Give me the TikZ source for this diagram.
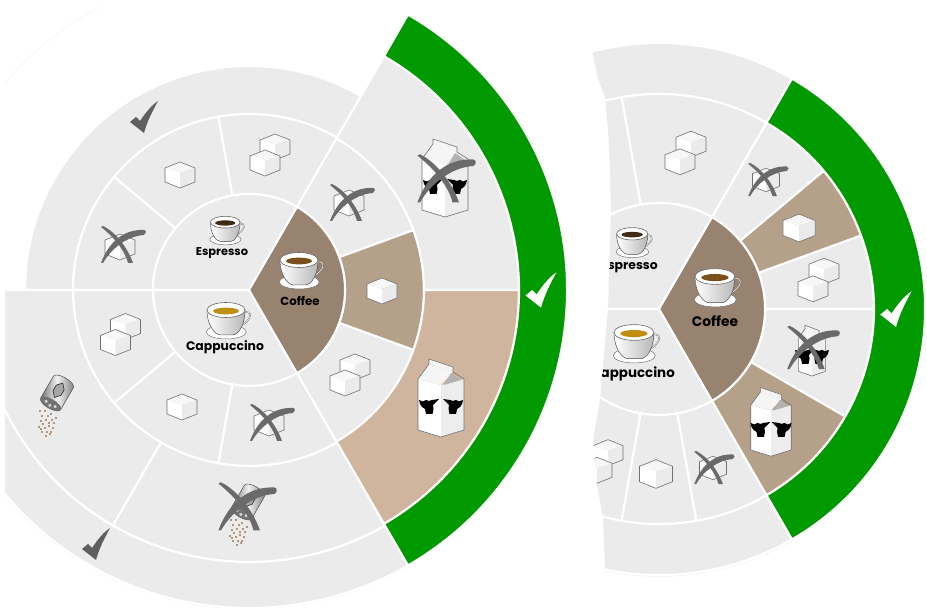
\documentclass[tikz,border=0pt]{standalone}
\usepackage{fontspec}
\usetikzlibrary{calc}
\newfontfamily\labfont{Poppins}
\definecolor{segray}{HTML}{EBEBEB}
\definecolor{slicebrown}{HTML}{97836F}
\definecolor{midtan}{HTML}{B5A08A}
\definecolor{lighttan}{HTML}{CFB59E}
\definecolor{okgreen}{HTML}{009900}
\definecolor{tickgray}{HTML}{5F5F5F}
\definecolor{crossgray}{HTML}{6A6A6A}
\definecolor{cubeline}{HTML}{707070}
\definecolor{powder}{HTML}{7A3E0C}
\definecolor{espressocol}{HTML}{3F2A14}
\definecolor{coffeecol}{HTML}{7A4F1C}
\definecolor{cappucol}{HTML}{C08E12}
\newcommand{\ringseg}[6]{\filldraw[seg,fill=#6] ($(#1)+(#4:#3)$) arc[start angle=#4,end angle=#5,radius=#3] -- ($(#1)+(#5:#2)$) arc[start angle=#5,end angle=#4,radius=#2] -- cycle;}
\tikzset{
  seg/.style={draw=white,line width=2.1pt,line join=miter},
  lab/.style={font=\labfont\bfseries\fontsize{#1}{14}\selectfont,text=black,inner sep=0pt},
  faint/.style={draw=black!6,line width=.5pt},
  pics/cube/.style={code={
    \fill[white!97!black] (0,2)--(-15,7)--(0,13)--(15,7)--cycle;
    \fill[white] (-15,7)--(0,2)--(0,-13)--(-15,-7)--cycle;
    \fill[black!8] (15,7)--(0,2)--(0,-13)--(15,-7)--cycle;
    \draw[cubeline,line width=.6pt,line join=round] (0,13)--(15,7)--(15,-7)--(0,-13)--(-15,-7)--(-15,7)--cycle;
  }},
  pics/cubes/.style={code={
    \pic at (5,8) {cube};
    \pic at (-5,-8) {cube};
  }},
  pics/cupicon/.style={code={
    \filldraw[draw=black!55,fill=white,line width=.5pt] (-.7,-12) ellipse[x radius=20,y radius=7];
    \draw[black!55,line width=1.4pt] (16,8) .. controls (26,10) and (26,0) .. (12,-7);
    \draw[white,line width=.5pt] (16,8) .. controls (26,10) and (26,0) .. (12,-7);
    \filldraw[draw=black!60,line width=.5pt,left color=white,right color=black!28] (-20,10) .. controls (-20,-4) and (-13,-15) .. (-6,-15) -- (5,-15) .. controls (12,-15) and (18,-4) .. (18,10) -- cycle;
    \filldraw[draw=black!60,fill=white,line width=.6pt] (-1,10) ellipse[x radius=19,y radius=7.5];
    \fill[#1] (-1,9) ellipse[x radius=13,y radius=3.4];
  }},
  pics/cowhead/.style={code={
    \fill[black] (-10,6)--(-6,4.5)--(-3,6)--(0,5)--(3,6)--(10,7)--(6,3)--(4,1)--(4.5,-3)--(3.5,-8)--(-3,-8)--(-4,-3)--(-7,-1)--(-9,2)--cycle;
  }},
  pics/milkbox/.style={code={
    \fill[white] (-23,18)--(0,12)--(0,-40)--(-23,-33)--cycle;
    \fill[black!7] (23,18)--(0,12)--(0,-40)--(23,-33)--cycle;
    \fill[black!4] (-23,18)--(-12,33)--(12,25)--(0,12)--cycle;
    \fill[black!4] (-12,33)--(-12,38)--(12,30)--(12,25)--cycle;
    \fill[black!30] (3,12)--(20,17)--(10,24)--cycle;
    \draw[cubeline,line width=.6pt,line join=round] (-12,38)--(12,30)--(12,25)--(23,18)--(23,-33)--(0,-40)--(-23,-33)--(-23,18)--(-12,33)--cycle;
    \pic at (-12,-9) {cowhead};
    \pic[xscale=-1] at (12,-9) {cowhead};
  }},
  pics/powderdots/.style={code={
    \foreach \dx/\dy in {-8/12,-3/12,3/9,-6/7,0/7,-7/2,-2/3,4/3,8/5,-5/-1,1/0,6/0,-9/-4,-3/-5,1/-3,5/-5,-6/-9,-1/-9,3/-9,-2/-13,-7/-6,2/-11}
      \fill[powder] (\dx,\dy) circle[radius=.9];
  }},
  pics/shaker/.style={code={
    \begin{scope}[rotate=-30,scale=1.15]
      \fill[left color=black!60,right color=black!50,middle color=black!5] (-10,-11) -- (-10,11) arc[start angle=180,end angle=0,radius=10,y radius=4] -- (10,-11) arc[start angle=0,end angle=-180,radius=10,y radius=4] -- cycle;
      \draw[black!65,line width=.5pt] (-10,-11) -- (-10,11) arc[start angle=180,end angle=0,radius=10,y radius=4] -- (10,-11);
      \filldraw[draw=black!60,fill=black!55,line width=.4pt] (0,-11) ellipse[x radius=10,y radius=4];
      \fill[black!15] (-4.5,-11) circle[radius=1.5] (0,-12.5) circle[radius=1.5] (4.5,-11) circle[radius=1.5];
      \filldraw[draw=black!80,fill=black!35,line width=.7pt] (0,10)--(4,5.5)--(4,0)--(0,-4.5)--(-4,0)--(-4,5.5)--cycle;
    \end{scope}
    \pic at (-9,-30) {powderdots};
  }},
  pics/tick/.style={code={
    \fill[#1] (-14,-5) -- (-8,0) -- (-4,-4) .. controls (2,5) and (8,12) .. (14,16) .. controls (8,5) and (3,-5) .. (0,-16) -- cycle;
  }},
  pics/crossout/.style={code={
    \fill[crossgray] (-22,18) -- (-20,19) .. controls (-6,12) and (5,-4) .. (10,-18) -- (5,-18) .. controls (2,-6) and (-8,7) .. (-22,18) -- cycle;
    \fill[crossgray] (-22,-18) -- (-20,-18) .. controls (-12,-4) and (4,9) .. (21,10) .. controls (23.5,11) and (23.5,15) .. (21,15) .. controls (2,16) and (-14,4) .. (-22,-18) -- cycle;
  }}
}
\begin{document}
\begin{tikzpicture}[x=1pt,y=1pt]
\useasboundingbox (0,0) rectangle (927,608);
\coordinate (lc) at (249,318);
\coordinate (rc) at (659,299);
% left chart
\begin{scope}
\clip (5,0) rectangle (585,608);
\draw[faint] ($(lc)+(118:320)$) arc[start angle=118,end angle=140,radius=320];
\draw[faint] ($(lc)+(-60:319)$) arc[start angle=-60,end angle=-180,radius=319];
\ringseg{lc}{176}{224}{60}{180}{segray}
\ringseg{lc}{96}{176}{100}{140}{segray}
\ringseg{lc}{96}{176}{60}{100}{segray}
\ringseg{lc}{96}{176}{140}{180}{segray}
\ringseg{lc}{0.01}{96}{60}{180}{segray}
\ringseg{lc}{0.01}{96}{180}{300}{segray}
\ringseg{lc}{96}{176}{180}{220}{segray}
\ringseg{lc}{96}{176}{220}{260}{segray}
\ringseg{lc}{96}{176}{260}{300}{segray}
\ringseg{lc}{176}{272}{180}{240}{segray}
\ringseg{lc}{176}{272}{240}{300}{segray}
\ringseg{lc}{272}{318}{180}{300}{segray}
\ringseg{lc}{96}{175}{20}{60}{segray}
\ringseg{lc}{96}{175}{-60}{-20}{segray}
\ringseg{lc}{96}{175}{-20}{20}{midtan}
\ringseg{lc}{175}{270}{0}{60}{segray}
\ringseg{lc}{175}{270}{-60}{0}{lighttan}
\ringseg{lc}{0.01}{96}{-60}{60}{slicebrown}
\ringseg{lc}{270}{318}{-60}{60}{okgreen}
\end{scope}
\pic at (120,361) {cube};
\pic at (123,363) {crossout};
\pic at (180,433) {cube};
\pic at (270,453) {cubes};
\pic at (349,405) {cube};
\pic at (352,405) {crossout};
\pic at (445,431) {milkbox};
\pic[scale=1.3] at (446,429) {crossout};
\pic at (300,338) {cupicon=coffeecol};
\node[lab=11.7] (lcoffee) at (300,307) {Coffee};
\pic at (382,317) {cube};
\pic at (350,233) {cubes};
\pic at (441,211) {milkbox};
\pic[scale=1.1] at (541,318) {tick=white};
\pic at (227,288) {cupicon=cappucol};
\node[lab=12.4] (lcappu) at (225,260.5) {Cappuccino};
\pic[scale=.78] at (226,378) {cupicon=espressocol};
\node[lab=11.4] (lespresso) at (222,355) {Espresso};
\pic at (120.5,273.5) {cubes};
\pic at (182,201) {cube};
\pic at (269,185) {cube};
\pic at (272,185) {crossout};
\pic at (57,215) {shaker};
\pic at (248,106) {shaker};
\pic[scale=1.3] at (247,101) {crossout};
\pic at (144,491) {tick=tickgray};
\pic at (96,64) {tick=tickgray};
% right chart
\begin{scope}
\clip (592,578) -- (592,558) -- (597,533) -- (605,510) -- (608,478) -- (610,438) -- (611,398) -- (608,300) -- (600,208) -- (593,168) -- (596,128) -- (603,91) -- (605,38) -- (592,34) -- (592,20) -- (927,20) -- (927,578) -- cycle;
\draw[faint] ($(rc)+(-60:267.5)$) arc[start angle=-60,end angle=-110,radius=267.5];
\ringseg{rc}{215}{266}{60}{180}{segray}
\ringseg{rc}{215}{266}{180}{300}{segray}
\ringseg{rc}{106}{215}{60}{100}{segray}
\ringseg{rc}{106}{215}{100}{180}{segray}
\ringseg{rc}{0.01}{106}{60}{180}{segray}
\ringseg{rc}{0.01}{106}{180}{300}{segray}
\ringseg{rc}{106}{215}{180}{260}{segray}
\ringseg{rc}{106}{215}{260}{280}{segray}
\ringseg{rc}{106}{215}{280}{300}{segray}
\ringseg{rc}{106}{215}{40}{60}{segray}
\ringseg{rc}{106}{215}{0}{20}{segray}
\ringseg{rc}{106}{215}{-30}{0}{segray}
\ringseg{rc}{106}{215}{20}{40}{midtan}
\ringseg{rc}{106}{215}{-60}{-30}{midtan}
\ringseg{rc}{0.01}{106}{-60}{60}{slicebrown}
\ringseg{rc}{215}{266}{-60}{60}{okgreen}
\pic[scale=.82] at (633,366) {cupicon=espressocol};
\node[lab=12.4,anchor=east] (respresso) at (658,340) {spresso};
\pic[scale=1.1] at (685.5,455) {cubes};
\pic[scale=.9] at (766,428) {cube};
\pic[scale=.9] at (768,428) {crossout};
\pic[scale=1.07] at (799,380) {cube};
\pic[scale=1.1] at (818.5,328) {cubes};
\pic[xscale=.58,yscale=.65] at (812,258) {milkbox};
\pic[scale=1.17] at (813,260) {crossout};
\pic[scale=.88] at (771,187) {milkbox};
\pic[scale=1.05] at (716,321) {cupicon=coffeecol};
\node[lab=13.8] (rcoffee) at (715,287) {Coffee};
\pic[scale=1.05] at (635,265) {cupicon=cappucol};
\node[lab=13.4,anchor=east] (rcappu) at (675,234) {appuccino};
\pic[scale=1.1] at (602.5,146.5) {cubes};
\pic[scale=1.1] at (656,134) {cube};
\pic[scale=.9] at (713,140) {cube};
\pic[scale=.9] at (714,140) {crossout};
\pic[scale=1.12] at (896,299) {tick=white};
\end{scope}
\end{tikzpicture}
\end{document}
